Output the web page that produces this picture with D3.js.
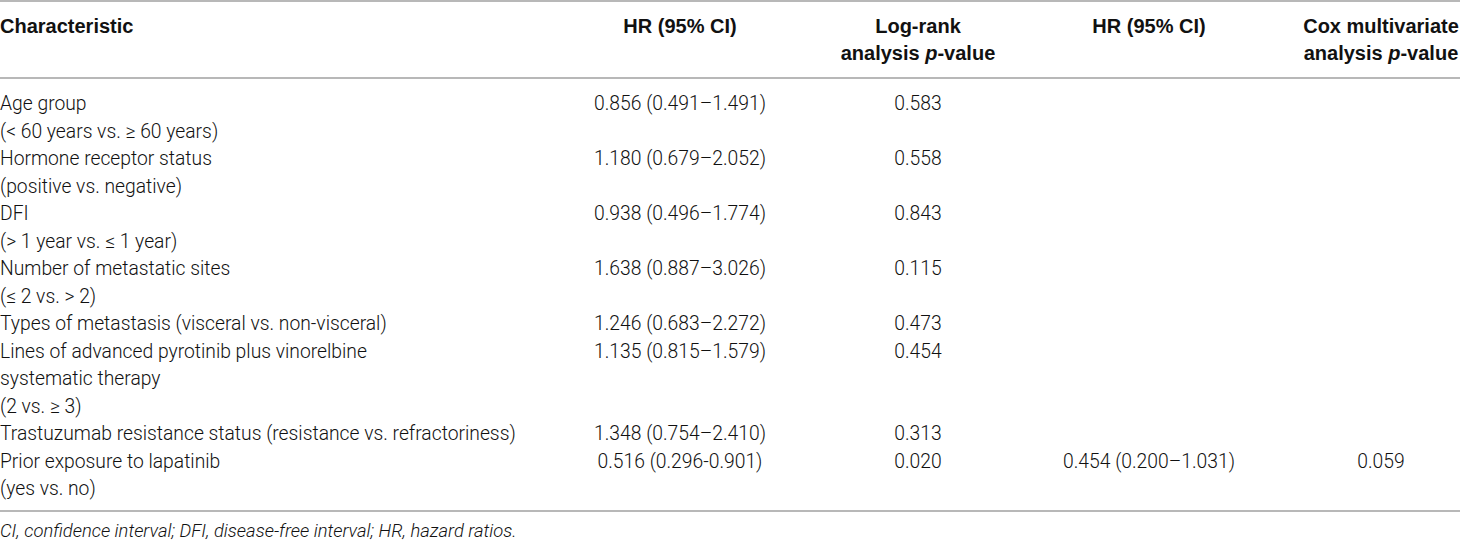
<!DOCTYPE html>
<html lang="en">
<head>
    <meta charset="UTF-8">
    <title>Univariate and multivariate analysis</title>
    <script src="https://d3js.org/d3.v7.min.js"></script>
    <style>
        body {
            margin: 0;
            background: #fff;
        }
        .cell {
            font-family: 'Roboto', 'Liberation Sans', sans-serif;
            font-weight: 300;
            font-size: 19.3px;
            fill: #111;
        }
        .head {
            font-family: 'Liberation Sans', Arial, sans-serif;
            font-weight: bold;
            font-size: 20px;
            fill: #111;
        }
        .note {
            font-family: 'Roboto', 'Liberation Sans', sans-serif;
            font-weight: 300;
            font-style: italic;
            font-size: 18.4px;
            fill: #111;
        }
        .rule {
            stroke: #a0a0a0;
            stroke-width: 1.6px;
        }
    </style>
</head>
<body>
    <div id="chart"></div>
    <script>
        // table content
        const characteristics = [
            ["Age group", "(< 60 years vs. \u2265 60 years)"],
            ["Hormone receptor status", "(positive vs. negative)"],
            ["DFI", "(> 1 year vs. \u2264 1 year)"],
            ["Number of metastatic sites", "(\u2264 2 vs. > 2)"],
            ["Types of metastasis (visceral vs. non-visceral)"],
            ["Lines of advanced pyrotinib plus vinorelbine", "systematic therapy", "(2 vs. \u2265 3)"],
            ["Trastuzumab resistance status (resistance vs. refractoriness)"],
            ["Prior exposure to lapatinib", "(yes vs. no)"]
        ];
        const hrUni = ["0.856 (0.491\u20131.491)", "1.180 (0.679\u20132.052)", "0.938 (0.496\u20131.774)",
            "1.638 (0.887\u20133.026)", "1.246 (0.683\u20132.272)", "1.135 (0.815\u20131.579)",
            "1.348 (0.754\u20132.410)", "0.516 (0.296-0.901)"];
        const logRankP = ["0.583", "0.558", "0.843", "0.115", "0.473", "0.454", "0.313", "0.020"];
        const hrMulti = ["", "", "", "", "", "", "", "0.454 (0.200\u20131.031)"];
        const coxP = ["", "", "", "", "", "", "", "0.059"];
        const headers = [
            [["Characteristic"]],
            [["HR (95% CI)"]],
            [["Log-rank"], ["analysis ", {i: "p"}, "-value"]],
            [["HR (95% CI)"]],
            [["Cox multivariate"], ["analysis ", {i: "p"}, "-value"]]
        ];
        const footnote = "CI, confidence interval; DFI, disease-free interval; HR, hazard ratios.";

        const width = 1460, height = 541;
        const svg = d3.select("#chart").append("svg")
            .attr("width", width)
            .attr("height", height);

        const cols = ["char", "hr1", "lr", "hr2", "cox"];
        const colX = d3.scaleOrdinal().domain(cols).range([0, 680, 918, 1149, 1381]);
        const anchor = c => c === "char" ? "start" : "middle";

        // body lines: baseline of line i
        const lineY = d3.scaleLinear().domain([0, 1]).range([110, 137.5]);
        const headY = d3.scaleLinear().domain([0, 1]).range([33, 60]);

        // rules
        const rules = [1, 78, 511];
        svg.selectAll(".rule").data(rules).enter().append("line")
            .attr("class", "rule")
            .attr("x1", 0).attr("x2", width)
            .attr("y1", d => d).attr("y2", d => d);

        // header
        headers.forEach((lines, ci) => {
            lines.forEach((parts, li) => {
                const t = svg.append("text")
                    .attr("class", "head")
                    .attr("x", colX(cols[ci]))
                    .attr("y", headY(li))
                    .attr("text-anchor", anchor(cols[ci]));
                parts.forEach(p => {
                    if (typeof p === "string") t.append("tspan").text(p);
                    else t.append("tspan").style("font-style", "italic").text(p.i);
                });
            });
        });

        // body rows
        let line = 0;
        const rows = characteristics.map((c, i) => {
            const r = {start: line, lines: c, hr1: hrUni[i], lr: logRankP[i], hr2: hrMulti[i], cox: coxP[i]};
            line += c.length;
            return r;
        });

        rows.forEach(r => {
            r.lines.forEach((txt, k) => {
                svg.append("text").attr("class", "cell")
                    .attr("x", colX("char"))
                    .attr("y", lineY(r.start + k))
                    .text(txt);
            });
            ["hr1", "lr", "hr2", "cox"].forEach(c => {
                if (!r[c]) return;
                svg.append("text").attr("class", "cell")
                    .attr("x", colX(c))
                    .attr("y", lineY(r.start))
                    .attr("text-anchor", "middle")
                    .text(r[c]);
            });
        });

        svg.append("text").attr("class", "note")
            .attr("x", 0).attr("y", 537)
            .text(footnote);
    </script>
</body>
</html>
